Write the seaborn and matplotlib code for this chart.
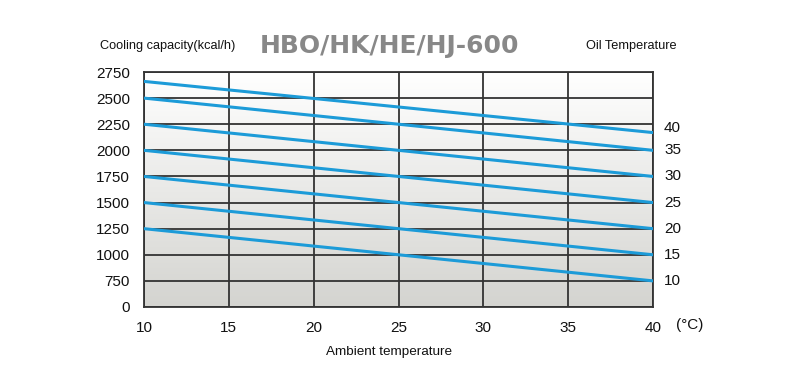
import numpy as np
import pandas as pd
import matplotlib
matplotlib.use("Agg")
import matplotlib.pyplot as plt
import seaborn as sns
from matplotlib.colors import LinearSegmentedColormap

# Data
ambient = [10, 40]
oil_temps = [40, 35, 30, 25, 20, 15, 10]
cap_at_10 = [2660, 2500, 2250, 2000, 1750, 1500, 1250]
cap_at_40 = [2170, 2000, 1750, 1500, 1250, 1000, 750]
y_ticks = [500, 750, 1000, 1250, 1500, 1750, 2000, 2250, 2500, 2750]
y_tick_labels = ["0", "750", "1000", "1250", "1500", "1750", "2000", "2250", "2500", "2750"]
x_ticks = [10, 15, 20, 25, 30, 35, 40]

rows = []
for t, a, b in zip(oil_temps, cap_at_10, cap_at_40):
    rows.append({"ambient": ambient[0], "cap": a, "oil": str(t)})
    rows.append({"ambient": ambient[1], "cap": b, "oil": str(t)})
df = pd.DataFrame(rows)

sns.set_theme(style="white")
plt.rcParams['font.family'] = ['Liberation Sans', 'DejaVu Sans']

fig = plt.figure(figsize=(7.96, 3.79), dpi=100)
ax = fig.add_axes([144/796, 1-307/379, (653-144)/796, (307-72)/379])

# gradient background (white at top, light grey at bottom)
grad = np.linspace(0, 1, 256).reshape(-1, 1)
cmap = LinearSegmentedColormap.from_list("bg", ["#ffffff", "#d4d4d0"])
ax.imshow(grad, extent=[10, 40, 500, 2750], aspect="auto", cmap=cmap, zorder=0, origin="upper")

line_color = "#1c9bd8"
sns.lineplot(data=df, x="ambient", y="cap", hue="oil", palette=[line_color]*len(oil_temps),
             legend=False, ax=ax, linewidth=2.2, zorder=3)

ax.set_xlim(10, 40)
ax.set_ylim(500, 2750)
ax.set_xticks(x_ticks)
ax.set_xticklabels([str(v) for v in x_ticks], fontsize=11)
ax.set_yticks(y_ticks)
ax.set_yticklabels(y_tick_labels, fontsize=11)
ax.tick_params(axis="both", length=0, pad=10, colors="#111111")
ax.grid(True, color="#333333", linewidth=1.3, zorder=2)
ax.set_axisbelow(False)
for s in ax.spines.values():
    s.set_color("#333333")
    s.set_linewidth(1.3)
ax.set_xlabel("")
ax.set_ylabel("")

for t, b in zip(oil_temps, cap_at_40):
    ax.annotate(str(t), xy=(40, b), xytext=(8, 3 if t == 40 else 0), textcoords="offset points",
                ha="left", va="center", fontsize=11, color="#111111", annotation_clip=False)

fig.text(100/796, 1-46/379, "Cooling capacity(kcal/h)", fontsize=9.2,
         ha="left", va="center", color="#111111")
fig.text(389/796, 1-46/379, "HBO/HK/HE/HJ-600", fontsize=18, fontweight="bold",
         ha="center", va="center", color="#888888", family=['DejaVu Sans'])
fig.text(631/796, 1-46/379, "Oil Temperature", fontsize=9.2,
         ha="center", va="center", color="#111111")
fig.text(676/796, 1-325/379, "(°C)", fontsize=11, ha="left", va="center", color="#111111")
fig.text(389/796, 1-352/379, "Ambient temperature", fontsize=9.7,
         ha="center", va="center", color="#111111")

fig.savefig("out.png", dpi=100)
